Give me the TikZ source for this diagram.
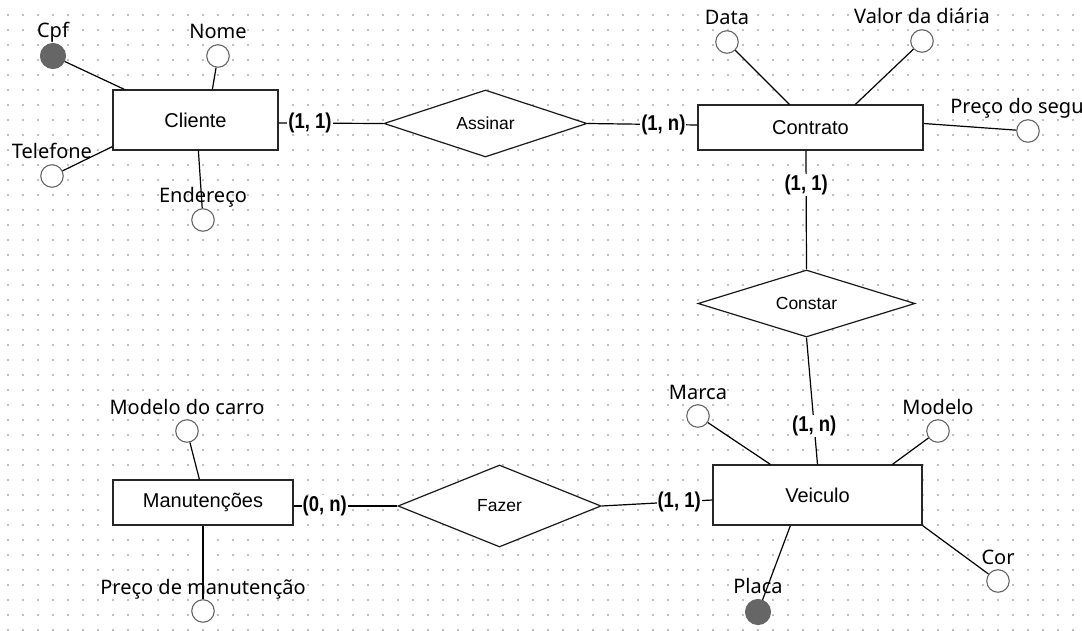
\documentclass[tikz,border=0pt]{standalone}
\usepackage{fontspec}
\setmainfont{Liberation Sans}
\newfontfamily\attrfont{Noto Sans}
\newfontfamily\cardfont[FakeStretch=0.86]{Liberation Sans}
\usetikzlibrary{shapes.geometric}

\begin{document}
\begin{tikzpicture}[
    x=1pt, y=-1pt,
    griddot/.style={fill=black!25},
    entity/.style={rectangle, draw=black!85, line width=1.2pt, fill=white, font=\fontsize{20}{24}\selectfont},
    relation/.style={diamond, aspect=3, draw=black!90, line width=1.2pt, fill=white, inner sep=0pt, font=\fontsize{17.5}{21}\selectfont},
    attr/.style={circle, draw=black!60, line width=1.1pt, fill=white, minimum size=22.5pt, inner sep=0pt},
    keyattr/.style={attr, fill=black!60, minimum size=25pt},
    attrtext/.style={font=\attrfont\fontsize{20}{24}\selectfont, inner sep=0pt, text depth=5pt},
    card/.style={fill=white, inner sep=1pt, font=\cardfont\bfseries\fontsize{21.5}{24}\selectfont},
    link/.style={line width=1.2pt}
]
    \useasboundingbox (0,0) rectangle (1082,631);

    % background grid
    \foreach \gx in {8,23,...,1082}
        \foreach \gy in {15,30,...,631}
            \fill[griddot] (\gx-0.75,\gy-0.75) rectangle +(1.5,1.5);

    % entities
    \node[entity, minimum width=165pt, minimum height=60pt] (cliente) at (195.5,120) {Cliente};
    \node[entity, minimum width=225pt, minimum height=45pt] (contrato) at (810.5,127.5) {Contrato};
    \node[entity, minimum width=209pt, minimum height=60pt] (veiculo) at (817.5,495) {Veiculo};
    \node[entity, minimum width=180pt, minimum height=45pt] (manutencoes) at (203,502.5) {Manutenções};

    % relationships
    \node[relation, minimum width=203pt, minimum height=67pt] (assinar) at (485.5,123.5) {Assinar};
    \node[relation, minimum width=217pt, minimum height=67pt] (constar) at (806.5,303.5) {Constar};
    \node[relation, minimum width=203pt, minimum height=82pt] (fazer) at (499.5,506) {Fazer};

    % attributes
    \node[keyattr, label={[attrtext]above:Cpf}] (cpf) at (53,56) {};
    \node[attr, label={[attrtext]above:Nome}] (nome) at (218,56) {};
    \node[attr, label={[attrtext]above:Telefone}] (telefone) at (52,176) {};
    \node[attr, label={[attrtext]above:Endereço}] (endereco) at (203,220) {};
    \node[attr, label={[attrtext]above:Data}] (data) at (727,42) {};
    \node[attr, label={[attrtext]above:Valor da diária}] (valor) at (922,41) {};
    \node[attr, label={[attrtext, xshift=-11pt]above:Preço do segu}] (seguro) at (1028,131) {};
    \node[attr, label={[attrtext]above:Marca}] (marca) at (698,416) {};
    \node[attr, label={[attrtext]above:Modelo}] (modelo) at (938,431) {};
    \node[attr, label={[attrtext]above:Cor}] (cor) at (998,581) {};
    \node[keyattr, label={[attrtext]above:Placa}] (placa) at (758,612) {};
    \node[attr, label={[attrtext]above:Modelo do carro}] (modelocarro) at (187,431) {};
    \node[attr, label={[attrtext]above:Preço de manutenção}] (precomanut) at (203,611) {};

    \draw[link] (cpf) -- ([xshift=12pt]cliente.north west);
    \draw[link] (nome) -- ([xshift=100pt]cliente.north west);
    \draw[link] (telefone) -- ([yshift=4pt]cliente.south west);
    \draw[link] (endereco) -- ([xshift=86pt]cliente.south west);
    \draw[link] (data) -- ([xshift=92pt]contrato.north west);
    \draw[link] (valor) -- ([xshift=158pt]contrato.north west);
    \draw[link] (seguro) -- ([yshift=4pt]contrato.east);
    \draw[link] (marca) -- ([xshift=58pt]veiculo.north west);
    \draw[link] (modelo) -- ([xshift=180pt]veiculo.north west);
    \draw[link] (cor) -- (veiculo.south east);
    \draw[link] (placa) -- ([xshift=78pt]veiculo.south west);
    \draw[link] (modelocarro) -- ([xshift=87pt]manutencoes.north west);
    \draw[link] (precomanut) -- (manutencoes.south);

    \draw[link] ([yshift=-3pt]cliente.east) -- node[card, pos=0.3] {(1, 1)} (assinar.west);
    \draw[link] (assinar.east) -- node[card, pos=0.69] {(1, n)} ([yshift=2.5pt]contrato.west);
    \draw[link] ([xshift=-4.5pt]contrato.south) -- node[card, pos=0.29] {(1, 1)} (constar.north);
    \draw[link] (constar.south) -- node[card, pos=0.7] {(1, n)} (veiculo.north);
    \draw[link] ([yshift=-3.5pt]manutencoes.east) -- node[card, pos=0.3] {(0, n)} (fazer.west);
    \draw[link] (fazer.east) -- node[card, pos=0.7] {(1, 1)} ([yshift=-5pt]veiculo.west);
\end{tikzpicture}
\end{document}
